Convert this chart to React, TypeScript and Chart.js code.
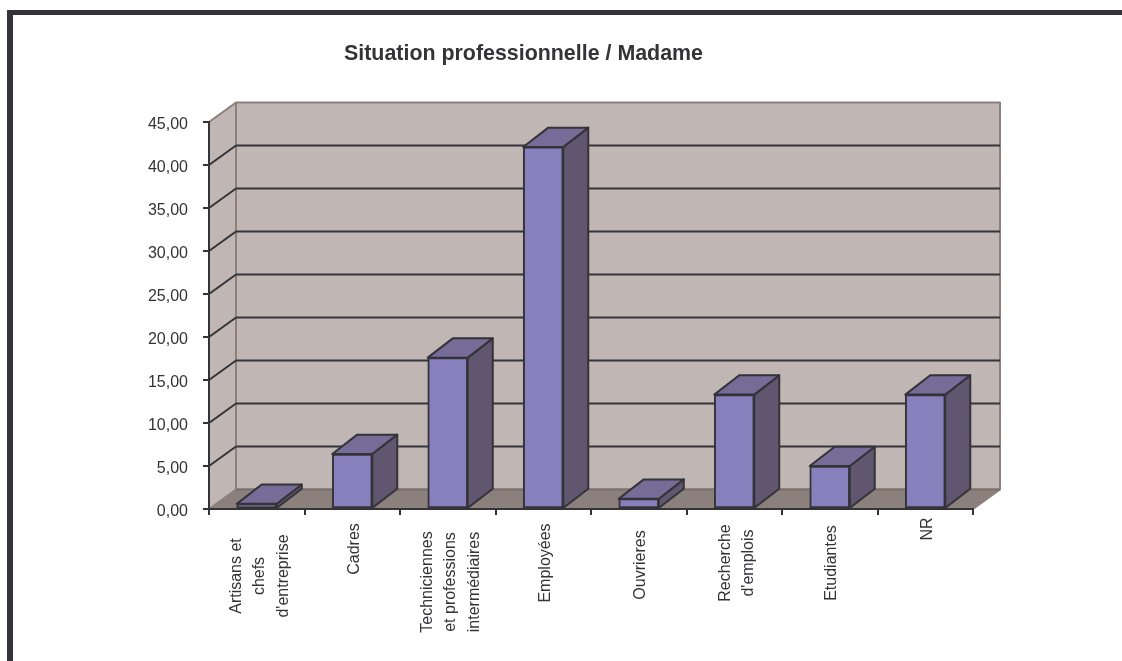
import React, { useEffect, useRef } from "react";
import { Chart, registerables } from "chart.js";

Chart.register(...registerables);

const categories: string[][] = [
  ["Artisans et", "chefs", "d'entreprise"],
  ["Cadres"],
  ["Techniciennes", "et professions", "intermédiaires"],
  ["Employées"],
  ["Ouvrieres"],
  ["Recherche", "d'emplois"],
  ["Etudiantes"],
  ["NR"],
];
const shares: number[] = [0.6, 6.4, 17.6, 42.1, 1.2, 13.3, 5.0, 13.3];
const chartTitle = "Situation professionnelle / Madame";
const categoryLabelMidlines: number[] = [576, 549, 582, 563, 565, 563, 563, 529];

const FONT = "'Liberation Sans', Arial, sans-serif";
const INK = "#333338";
const WALL = "#c0b6b3";
const FLOOR = "#8c807c";
const EDGE = "#8c807d";
const BAR_FRONT = "#8880bc";
const BAR_TOP = "#776c98";
const BAR_SIDE = "#60566f";
const WALL_DX = 27;
const WALL_DY = 19.5;
const BAR_DX = 25;
const BAR_DY = 19.3;
const LINE_GAP = 23.5;
const STROKE = 2;

function fillPoly(ctx: CanvasRenderingContext2D, pts: number[][], fill: string, stroke?: string, lw = STROKE) {
  ctx.beginPath();
  pts.forEach(([x, y], i) => (i ? ctx.lineTo(x, y) : ctx.moveTo(x, y)));
  ctx.closePath();
  ctx.fillStyle = fill;
  ctx.fill();
  if (stroke) {
    ctx.strokeStyle = stroke;
    ctx.lineWidth = lw;
    ctx.lineJoin = "round";
    ctx.stroke();
  }
}

function strokeLine(ctx: CanvasRenderingContext2D, x1: number, y1: number, x2: number, y2: number, color: string, lw = STROKE) {
  ctx.beginPath();
  ctx.moveTo(x1, y1);
  ctx.lineTo(x2, y2);
  ctx.strokeStyle = color;
  ctx.lineWidth = lw;
  ctx.stroke();
}

// Walls, floor and receding grid lines of the 3D box behind the bars.
const chartBox = {
  id: "chartBox",
  beforeDraw(chart: any) {
    const { ctx, chartArea: a, scales } = chart;
    const y = scales.y;
    const L = a.left, R = a.right, T = a.top, B = a.bottom;
    const dx = WALL_DX, dy = WALL_DY;
    ctx.save();
    fillPoly(ctx, [[L + dx, T - dy], [R + dx, T - dy], [R + dx, B - dy], [L + dx, B - dy]], WALL, EDGE);
    fillPoly(ctx, [[L, T], [L + dx, T - dy], [L + dx, B - dy], [L, B]], WALL);
    fillPoly(ctx, [[L, B], [L + dx, B - dy], [R + dx, B - dy], [R, B]], FLOOR);
    strokeLine(ctx, L + dx, T - dy, L + dx, B - dy, EDGE);
    strokeLine(ctx, L, T, L + dx, T - dy, EDGE);
    strokeLine(ctx, L, B, L + dx, B - dy, EDGE);
    strokeLine(ctx, R, B, R + dx, B - dy, EDGE);
    strokeLine(ctx, L + dx, B - dy, R + dx, B - dy, "#7a6e6b");
    y.ticks.forEach((t: any) => {
      if (t.value === y.min || t.value === y.max) return;
      const py = y.getPixelForValue(t.value);
      strokeLine(ctx, L, py, L + dx, py - dy, INK);
      strokeLine(ctx, L + dx, py - dy, R + dx, py - dy, INK);
    });
    ctx.restore();
  },
  // Top and side faces extruded from each bar's front rectangle.
  afterDatasetsDraw(chart: any) {
    const { ctx } = chart;
    ctx.save();
    chart.getDatasetMeta(0).data.forEach((bar: any) => {
      const { x, y, base, width } = bar.getProps(["x", "y", "base", "width"], true);
      const l = x - width / 2, r = x + width / 2;
      fillPoly(ctx, [[r, y], [r + BAR_DX, y - BAR_DY], [r + BAR_DX, base - BAR_DY], [r, base]], BAR_SIDE, INK);
      fillPoly(ctx, [[l, y], [l + BAR_DX, y - BAR_DY], [r + BAR_DX, y - BAR_DY], [r, y]], BAR_TOP, INK);
    });
    ctx.restore();
  },
  // Vertical, centred multi-line category labels.
  afterDraw(chart: any) {
    const { ctx, scales } = chart;
    const x = scales.x;
    ctx.save();
    ctx.font = `16px ${FONT}`;
    ctx.fillStyle = INK;
    ctx.textAlign = "center";
    ctx.textBaseline = "middle";
    categories.forEach((lines, i) => {
      ctx.save();
      ctx.translate(x.getPixelForTick(i) + (lines.length > 1 ? 3 : 2), categoryLabelMidlines[i]);
      ctx.rotate(-Math.PI / 2);
      lines.forEach((line, j) => {
        ctx.fillText(line, 0, (j - (lines.length - 1) / 2) * LINE_GAP);
      });
      ctx.restore();
    });
    ctx.restore();
  },
};

export default function App() {
  const ref = useRef<HTMLCanvasElement>(null);

  useEffect(() => {
    const chart = new Chart(ref.current as HTMLCanvasElement, {
      type: "bar",
      data: {
        labels: categories,
        datasets: [
          {
            data: shares,
            backgroundColor: BAR_FRONT,
            borderColor: INK,
            borderWidth: STROKE,
            borderSkipped: false,
            barThickness: 40,
          },
        ],
      },
      options: {
        responsive: false,
        animation: false,
        layout: { padding: { left: 74, right: 149, top: 41.2, bottom: 0 } },
        plugins: {
          legend: { display: false },
          tooltip: { enabled: false },
          title: {
            display: true,
            text: chartTitle,
            color: INK,
            font: { family: FONT, size: 21.4, weight: "bold", lineHeight: 1.2 },
            padding: { top: 0, bottom: 55.12 },
          },
        },
        scales: {
          x: {
            offset: true,
            ticks: { display: false },
            grid: { drawOnChartArea: false, drawTicks: true, tickLength: 6, color: INK, lineWidth: STROKE },
            border: { color: INK, width: STROKE },
            afterFit(scale: any) {
              scale.height = 152;
            },
          },
          y: {
            min: 0,
            max: 45,
            ticks: {
              stepSize: 5,
              padding: 15,
              labelOffset: 3,
              color: INK,
              font: { family: FONT, size: 16 },
              callback: (v: any) => Number(v).toFixed(2).replace(".", ","),
            },
            grid: { drawOnChartArea: false, drawTicks: true, tickLength: 6, color: INK, lineWidth: STROKE },
            border: { color: INK, width: STROKE },
            afterFit(scale: any) {
              scale.width = 135;
            },
          },
        },
      },
      plugins: [chartBox],
    } as any);
    return () => chart.destroy();
  }, []);

  return (
    <div style={{ position: "fixed", inset: 0, background: "#fff" }}>
      <div
        style={{
          position: "absolute",
          left: 7,
          top: 10,
          right: 0,
          bottom: 0,
          borderLeft: `6px solid ${INK}`,
          borderTop: `5px solid ${INK}`,
        }}
      />
      <canvas ref={ref} width={1122} height={661} style={{ position: "absolute", left: 0, top: 0, display: "block" }} />
    </div>
  );
}
